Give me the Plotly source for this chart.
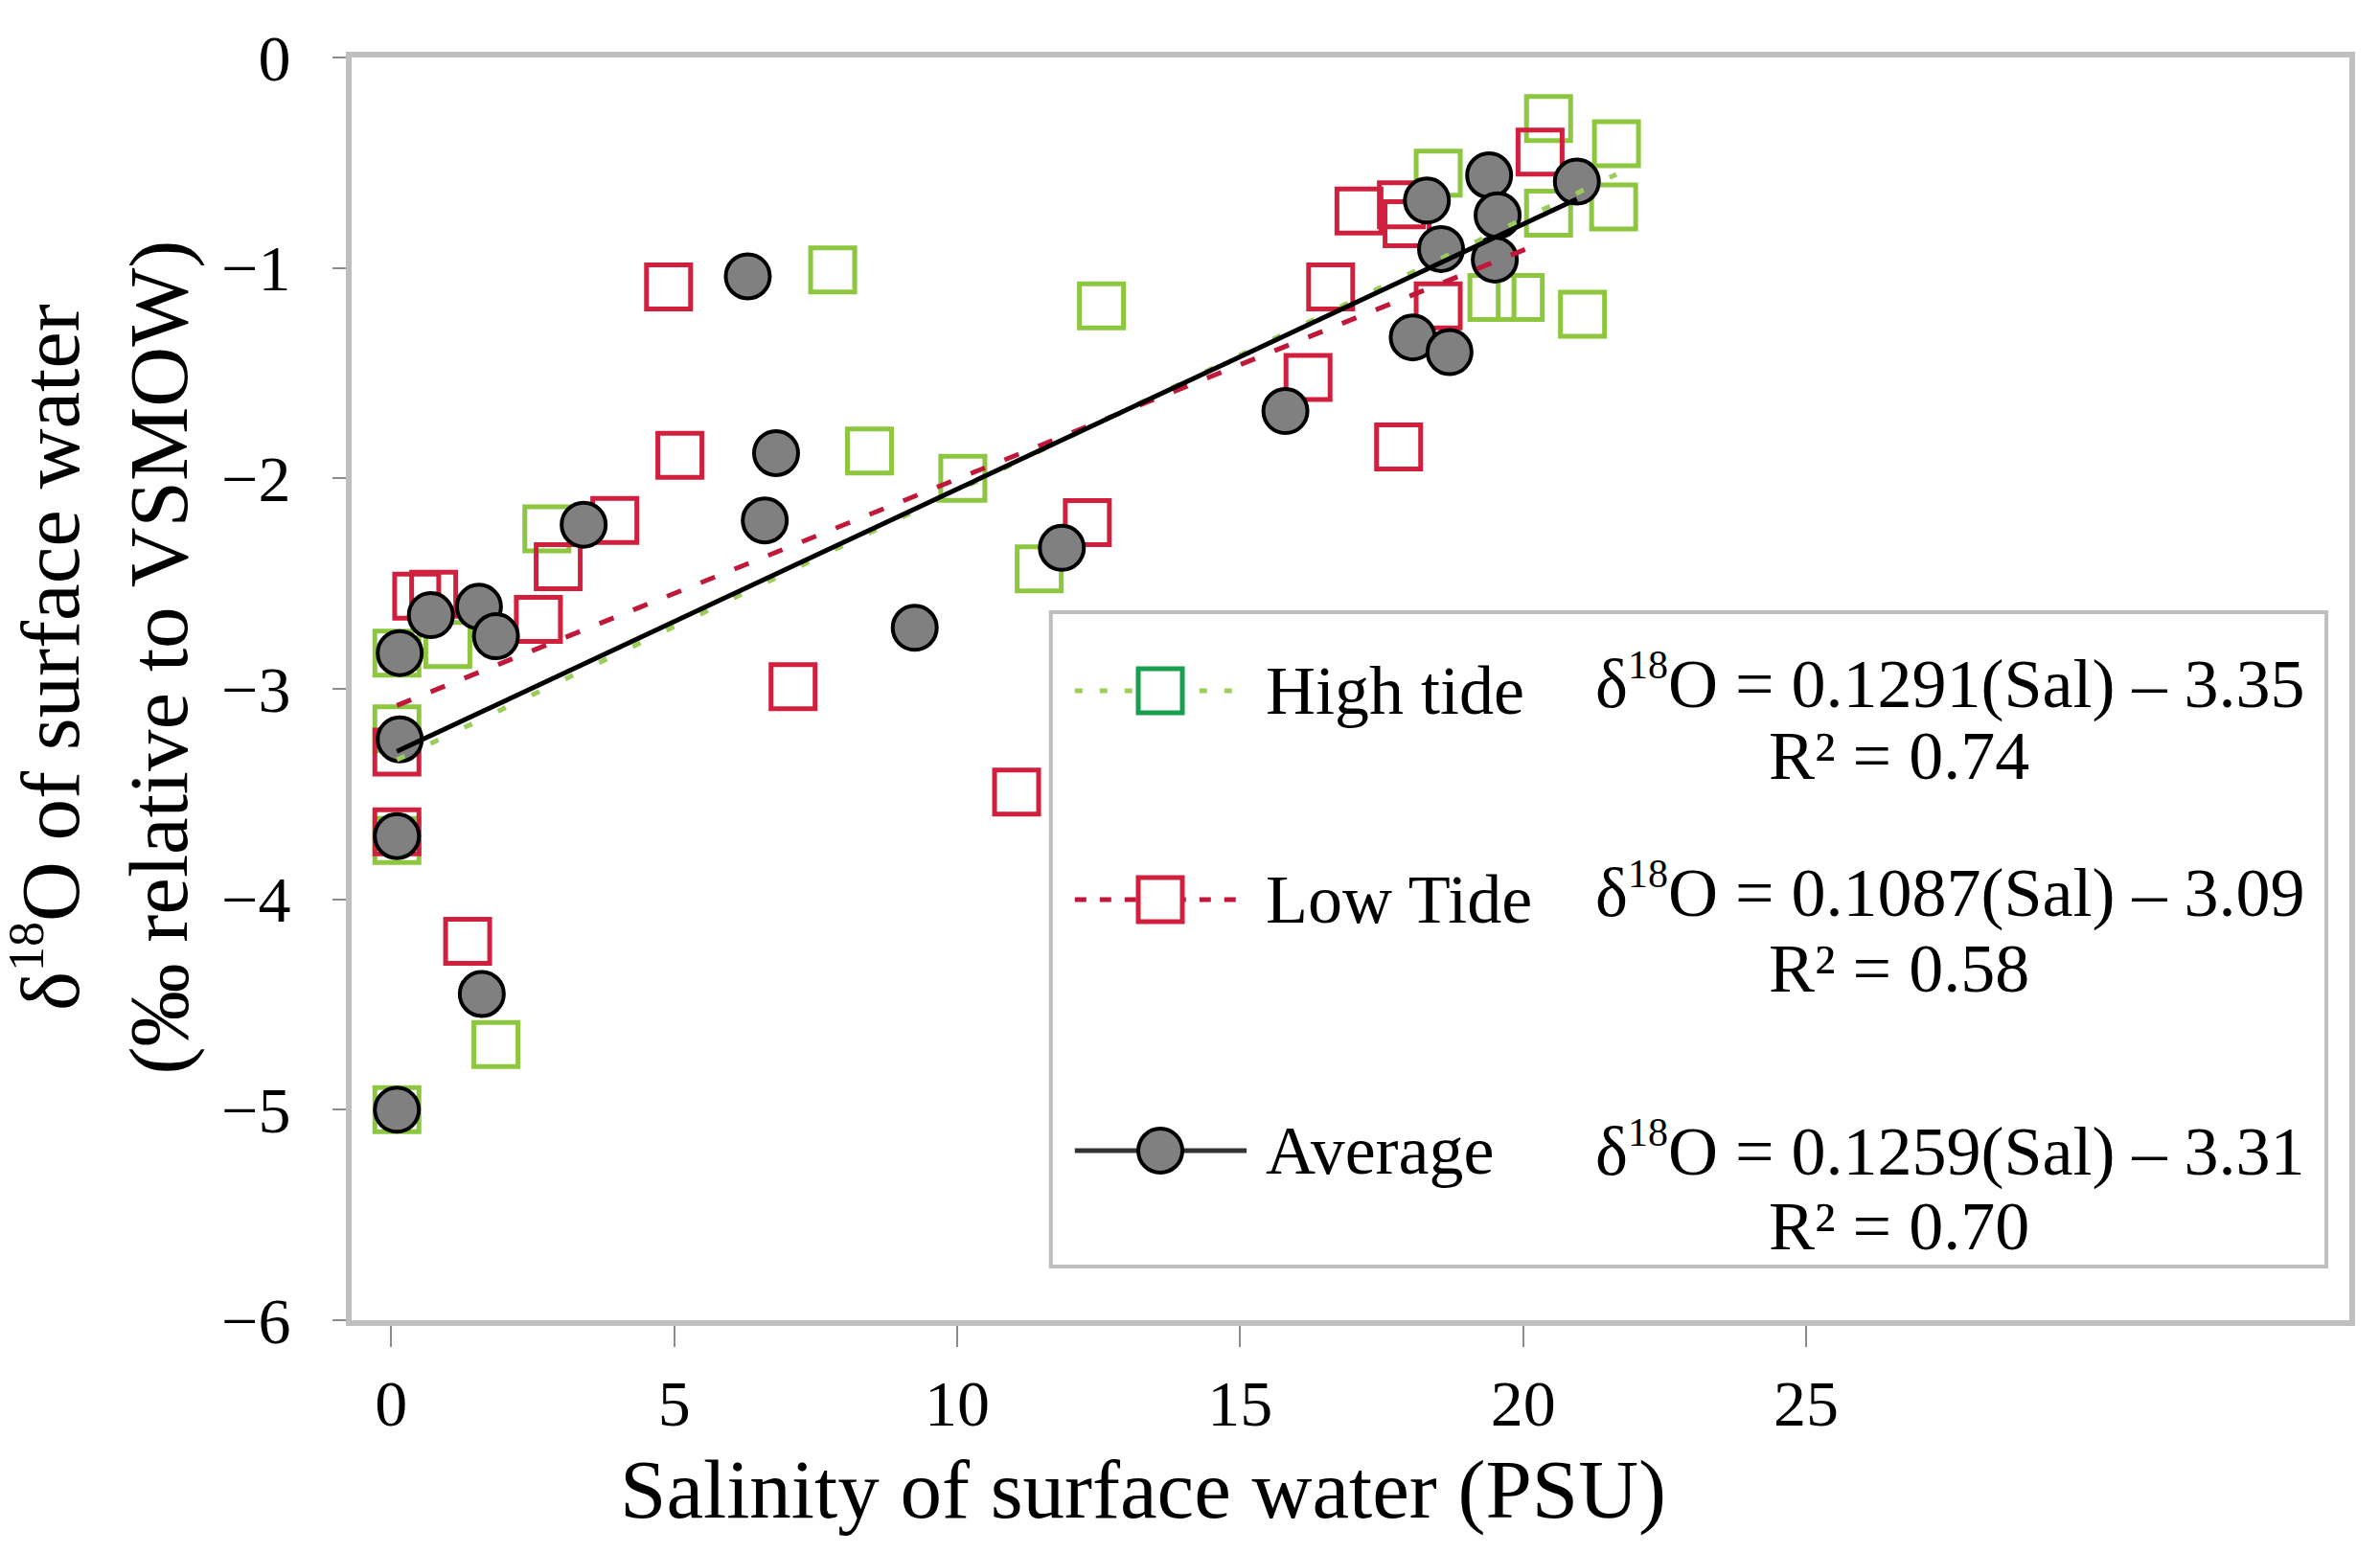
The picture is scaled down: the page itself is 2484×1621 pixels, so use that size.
import numpy as np
import plotly.graph_objects as go

# salinity (PSU) and d18O (permil)
high_x = [0.1, 0.1, 0.1, 0.1, 1.0, 1.85, 2.75, 7.8, 8.45, 10.1, 11.45, 12.55,
          18.5, 19.45, 19.95, 20.45, 20.45, 21.05, 21.6, 21.65]
high_y = [-5.0, -3.72, -3.19, -2.83, -2.79, -4.69, -2.24, -1.01, -1.87, -2.0, -2.43, -1.18,
          -0.55, -1.14, -1.14, -0.29, -0.74, -1.22, -0.71, -0.41]

low_x = [0.1, 0.1, 0.45, 0.75, 1.35, 2.6, 2.95, 3.95, 4.9, 5.1, 7.1, 11.05, 12.3,
         16.2, 16.6, 17.1, 17.8, 17.85, 17.95, 18.5, 20.3]
low_y = [-3.30, -3.68, -2.56, -2.55, -4.20, -2.67, -2.42, -2.20, -1.09, -1.89, -2.99, -3.49, -2.21,
         -1.52, -1.09, -0.73, -1.85, -0.70, -0.79, -1.18, -0.45]

avg_x = [0.1, 0.1, 0.15, 0.15, 0.7, 1.55, 1.85, 1.6, 3.4, 6.3, 6.8, 6.6, 9.25, 11.85,
         15.8, 18.05, 18.7, 18.3, 18.55, 19.4, 19.55, 19.5, 20.95]
avg_y = [-5.0, -3.70, -3.24, -2.83, -2.65, -2.61, -2.75, -4.45, -2.22, -1.04, -1.88, -2.20, -2.71, -2.33,
         -1.68, -1.33, -1.40, -0.68, -0.91, -0.56, -0.75, -0.96, -0.59]

# regression fits as printed in the legend
series_names = ["High tide", "Low Tide", "Average"]
slopes = [0.1291, 0.1087, 0.1259]
intercepts = [-3.35, -3.09, -3.31]
r2_values = [0.74, 0.58, 0.70]

x_ticks = [0, 5, 10, 15, 20, 25]
y_ticks = [-6, -5, -4, -3, -2, -1, 0]

GREEN = "#8DC63F"
GREEN_DARK = "#17A050"
RED = "#D0203E"
GREY = "#808080"
FONT = "Liberation Serif"


def sup(txt, px):
    return "<sup><span style='font-size:%dpx'>%s</span></sup>" % (px, txt)


fig = go.Figure()

fig.add_trace(go.Scatter(x=high_x, y=high_y, mode="markers", showlegend=False,
                         marker=dict(symbol="square-open", size=46, color=GREEN,
                                     line=dict(color=GREEN, width=5))))
fig.add_trace(go.Scatter(x=low_x, y=low_y, mode="markers", showlegend=False,
                         marker=dict(symbol="square-open", size=46, color=RED,
                                     line=dict(color=RED, width=5))))
fig.add_trace(go.Scatter(x=avg_x, y=avg_y, mode="markers", showlegend=False,
                         marker=dict(symbol="circle", size=46, color=GREY,
                                     line=dict(color="black", width=4))))

# trend lines over the range of each series
line_styles = [dict(color="#9ACD5A", width=5, dash="9px,30px"),
               dict(color="#C0183A", width=5, dash="16px,22px"),
               dict(color="black", width=5)]
for xs, m, b, st in zip([high_x, low_x, avg_x], slopes, intercepts, line_styles):
    tx = np.array([min(xs), max(xs)])
    fig.add_trace(go.Scatter(x=tx, y=m * tx + b, mode="lines", line=st,
                             showlegend=False, hoverinfo="skip"))

# hand-built legend box in paper coordinates
shapes = [dict(type="rect", xref="paper", yref="paper", x0=0.350, x1=0.9885, y0=0.0425, y1=0.5607,
               line=dict(color="#BFBFBF", width=4), fillcolor="white", layer="above")]
annotations = []
row_y = [0.4985, 0.3331, 0.1343]
eq_y = [0.5046, 0.3392, 0.1343]
r2_y = [0.4469, 0.2785, 0.0744]
sample_line = [dict(color="#9ACD5A", width=5, dash="8px,18px"),
               dict(color="#C0183A", width=5, dash="12px,14px"),
               dict(color="#333333", width=5)]
for i, name in enumerate(series_names):
    shapes.append(dict(type="line", xref="paper", yref="paper", x0=0.362, x1=0.448,
                       y0=row_y[i], y1=row_y[i], line=sample_line[i], layer="above"))
    mk = dict(xref="paper", yref="paper", xsizemode="pixel", ysizemode="pixel",
              xanchor=0.4048, yanchor=row_y[i], x0=-23, x1=23, y0=-23, y1=23, layer="above")
    if i == 0:
        mk.update(type="rect", line=dict(color=GREEN_DARK, width=5), fillcolor="white")
    elif i == 1:
        mk.update(type="rect", line=dict(color=RED, width=5), fillcolor="white")
    else:
        mk.update(type="circle", line=dict(color="black", width=4), fillcolor=GREY)
    shapes.append(mk)
    annotations.append(dict(text=name, x=0.4566, y=row_y[i], xref="paper", yref="paper",
                            xanchor="left", yanchor="middle", showarrow=False,
                            font=dict(family=FONT, size=72, color="black")))
    eq = "δ%sO = %.4f(Sal) – %.2f" % (sup("18", 42), slopes[i], -intercepts[i])
    annotations.append(dict(text=eq, x=0.9789, y=eq_y[i], xref="paper", yref="paper",
                            xanchor="right", yanchor="middle", showarrow=False,
                            font=dict(family=FONT, size=72, color="black")))
    annotations.append(dict(text="R² = %.2f" % r2_values[i], x=0.7746, y=r2_y[i],
                            xref="paper", yref="paper", xanchor="center", yanchor="middle",
                            showarrow=False, font=dict(family=FONT, size=72, color="black")))

# axis titles
annotations.append(dict(text="Salinity of surface water (PSU)", x=0.3960, y=-0.1340,
                        xref="paper", yref="paper", xanchor="center", yanchor="middle",
                        showarrow=False, font=dict(family=FONT, size=87, color="black")))
annotations.append(dict(text="δ%sO of surface water<br>(‰ relative to VSMOW)" % sup("18", 52),
                        x=-0.1250, y=0.525, xref="paper", yref="paper", textangle=-90,
                        xanchor="center", yanchor="middle", showarrow=False,
                        font=dict(family=FONT, size=87, color="black")))

fig.update_layout(
    width=2484,
    height=1621,
    margin=dict(l=359, r=40, t=52, b=251),
    paper_bgcolor="white",
    plot_bgcolor="white",
    font=dict(family=FONT, size=68, color="black"),
    shapes=shapes,
    annotations=annotations,
    showlegend=False,
)
fig.update_xaxes(range=[-0.70, 34.6], tickvals=x_ticks, showgrid=False, zeroline=False,
                 showline=True, linecolor="#BFBFBF", linewidth=6, mirror=True,
                 ticks="outside", ticklen=22, tickwidth=2, tickcolor="#8C8C8C",
                 tickfont=dict(family=FONT, size=68), ticklabelstandoff=0)
fig.update_yaxes(range=[-6, 0], tickvals=y_ticks, showgrid=False, zeroline=False,
                 showline=True, linecolor="#BFBFBF", linewidth=6, mirror=True,
                 ticks="outside", ticklen=14, tickwidth=2, tickcolor="#8C8C8C",
                 tickfont=dict(family=FONT, size=68), ticklabelstandoff=30)

fig.write_html("out.html")
